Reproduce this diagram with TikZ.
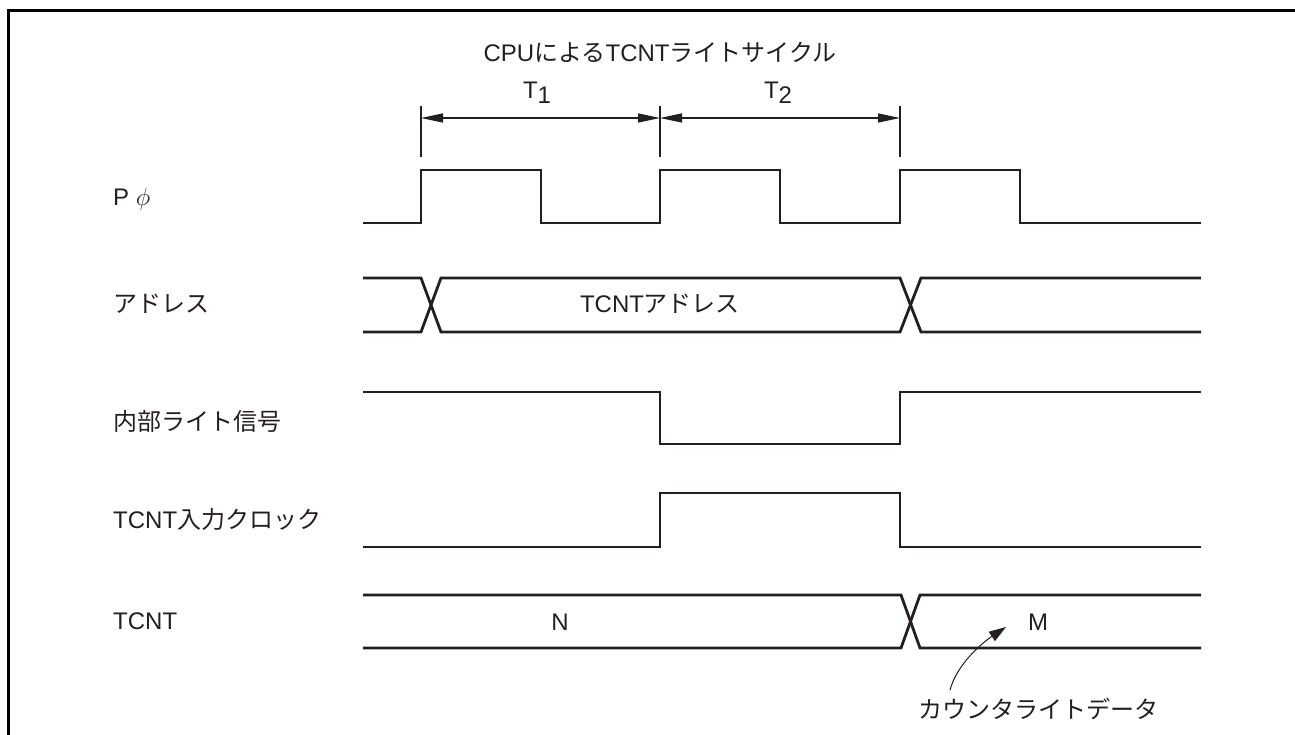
\documentclass[tikz,border=0pt]{standalone}
\usepackage{fontspec}
\setmainfont{Liberation Sans}
\newfontfamily\jpfont{Noto Sans CJK JP}
\usetikzlibrary{arrows.meta,positioning}
\definecolor{ink}{RGB}{35,31,32}
\newcommand{\ja}[1]{{\jpfont #1}}
\newcommand{\tsub}[1]{\lower5pt\hbox{#1}}

\begin{document}
\begin{tikzpicture}[x=1pt,y=-1pt,
    wave/.style={line width=2.8pt, draw=ink, line join=miter},
    dimline/.style={line width=1.3pt, draw=ink},
    lbl/.style={font=\fontsize{24}{28}\selectfont, text=ink, inner sep=0pt},
    sig/.style={lbl, anchor=west}]
    \useasboundingbox (0,0) rectangle (1295,735);

    % frame (open to the right and bottom)
    \draw[line width=3pt] (8,735) -- (8,11) -- (1295,11);

    % title and cycle states
    \node[lbl] (title) at (660,52) {CPU\ja{による}TCNT\ja{ライトサイクル}};
    \node[lbl] (t1) at (537,93) {T\tsub{1}};
    \node[lbl] (t2) at (778,93) {T\tsub{2}};

    \foreach \px/\nm in {421/ta, 660/tb, 900/tc} {
        \coordinate (\nm top) at (\px,106);
        \coordinate (\nm bot) at (\px,157);
        \coordinate (\nm) at (\px,118);
        \draw[dimline] (\nm top) -- (\nm bot);
    }
    \draw[dimline, {Triangle[length=22pt,width=9pt]}-{Triangle[length=22pt,width=9pt]}] (ta) -- (tb);
    \draw[dimline, {Triangle[length=22pt,width=9pt]}-{Triangle[length=22pt,width=9pt]}] (tb) -- (tc);

    % signal names
    \node[sig] (pphi) at (113,199) {P $\phi$};
    \node[sig] (addr) at (113,304) {\ja{アドレス}};
    \node[sig] (wr) at (113,421) {\ja{内部ライト信号}};
    \node[sig] (clk) at (113,519) {TCNT\ja{入力クロック}};
    \node[sig] (cnt) at (113,621) {TCNT};

    % P phi
    \draw[wave] (363,223) -- (421,223) -- (421,170) -- (541,170) -- (541,223)
        -- (660,223) -- (660,170) -- (780,170) -- (780,223)
        -- (900,223) -- (900,170) -- (1020,170) -- (1020,223) -- (1201,223);

    % address bus
    \draw[wave] (363,278) -- (421,278) -- (441,332) -- (900,332) -- (921,278) -- (1201,278);
    \draw[wave] (363,332) -- (421,332) -- (441,278) -- (900,278) -- (921,332) -- (1201,332);
    \node[lbl] (addrval) at (660,304) {TCNT\ja{アドレス}};

    % internal write signal
    \draw[wave] (363,392) -- (660,392) -- (660,444) -- (900,444) -- (900,392) -- (1201,392);

    % TCNT input clock
    \draw[wave] (363,547) -- (660,547) -- (660,493) -- (900,493) -- (900,547) -- (1201,547);

    % TCNT
    \draw[wave] (363,595) -- (901,595) -- (920,648) -- (1201,648);
    \draw[wave] (363,648) -- (901,648) -- (920,595) -- (1201,595);
    \node[lbl] (valn) at (560,622) {N};
    \node[lbl] (valm) at (1038,622) {M};

    % counter write data
    \node[lbl] (cwd) at (1038,709) {\ja{カウンタライトデータ}};
    \coordinate (mtail) at (950,690);
    \coordinate (mtip) at (1006,627);
    \draw[line width=1pt, draw=ink, -{Triangle[length=17pt,width=11pt]}]
        (mtail) .. controls (957,664) and (982,643) .. (mtip);
\end{tikzpicture}
\end{document}
